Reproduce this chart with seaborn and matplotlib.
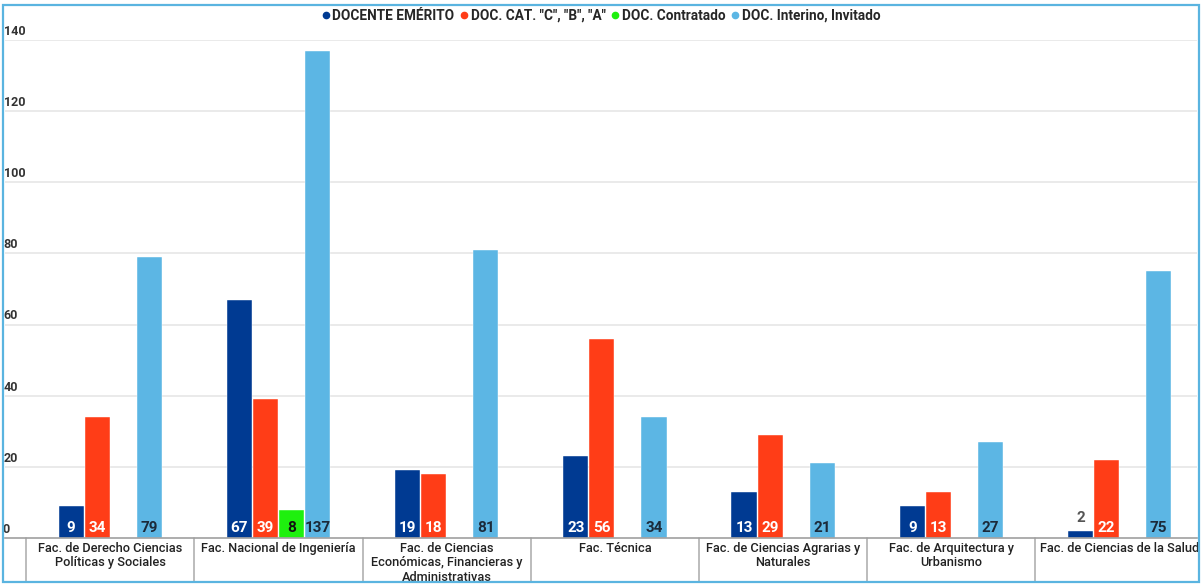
import matplotlib
matplotlib.use('Agg')
import matplotlib.pyplot as plt
import matplotlib.transforms as mtransforms
from matplotlib.lines import Line2D
from matplotlib.patches import Rectangle
import pandas as pd
import seaborn as sns

# data
facultades = ['Fac. de Derecho Ciencias\nPolíticas y Sociales',
              'Fac. Nacional de Ingeniería',
              'Fac. de Ciencias\nEconómicas, Financieras y\nAdministrativas',
              'Fac. Técnica',
              'Fac. de Ciencias Agrarias y\nNaturales',
              'Fac. de Arquitectura y\nUrbanismo',
              'Fac. de Ciencias de la Salud']
tipos = ['DOCENTE EMÉRITO', 'DOC. CAT. "C", "B", "A"', 'DOC. Contratado', 'DOC. Interino, Invitado']
emerito = [9, 67, 19, 23, 13, 9, 2]
catedra = [34, 39, 18, 56, 29, 13, 22]
contratado = [0, 8, 0, 0, 0, 0, 0]
interino = [79, 137, 81, 34, 21, 27, 75]
y_ticks = [0, 20, 40, 60, 80, 100, 120, 140]

colores = ['#003a92', '#ff3d17', '#1ef00e', '#5cb6e4']
col_texto = ['white', 'white', '#111111', '#1b2a3a']

df = pd.DataFrame({
    'facultad': facultades * 4,
    'tipo': [t for t in tipos for _ in facultades],
    'valor': emerito + catedra + contratado + interino,
})

sns.set_style('white')
plt.rcParams['font.family'] = ['Roboto', 'DejaVu Sans']

W, H = 1201, 585
fig = plt.figure(figsize=(W / 100, H / 100), dpi=100)
ax = fig.add_axes([5 / W, (H - 538) / H, 1192 / W, (538 - 40) / H])

sns.barplot(data=df, x='facultad', y='valor', hue='tipo', order=facultades,
            hue_order=tipos, palette=colores, saturation=1, width=0.62, gap=0.04,
            edgecolor='#ffffff', linewidth=0.3, legend=False, ax=ax)

ax.set_ylim(0, 140)
ax.set_xlim(-0.625, 6.46)
ax.set_xlabel('')
ax.set_ylabel('')
ax.set_xticks([])
ax.set_yticks([])
for v in y_ticks[1:]:
    ax.axhline(v, color='#e6e6e6', lw=1.2, zorder=0)
for s in ['left', 'top', 'right']:
    ax.spines[s].set_visible(False)
ax.spines['bottom'].set_color('#a0a0a0')
ax.spines['bottom'].set_linewidth(1.2)

# y labels sit just above the gridlines, inside the plot
trans_y = mtransforms.blended_transform_factory(ax.transAxes, ax.transData)
for v in y_ticks:
    ax.text(-0.001 if v else -0.002, v + 0.6, str(v), transform=trans_y,
            ha='left', va='bottom', fontsize=9, fontweight='bold', color='#333333')

# value labels at the base of each bar
for cont, tc in zip(ax.containers, col_texto):
    for bar in cont:
        h = bar.get_height()
        if h <= 0:
            continue
        cx = bar.get_x() + bar.get_width() / 2
        if h < 6:
            ax.text(cx, h + 1.6, f'{h:.0f}', ha='center', va='bottom',
                    fontsize=11, fontweight='bold', color='#555555')
        else:
            ax.text(cx, 0.9, f'{h:.0f}', ha='center', va='bottom',
                    fontsize=11, fontweight='bold', color=tc)

# category table under the axis
trans_x = mtransforms.blended_transform_factory(ax.transData, ax.transAxes)
fondo = -(582 - 538) / (538 - 40)
for i in range(len(facultades)):
    ax.plot([i - 0.5, i - 0.5], [0, fondo], transform=trans_x, color='#b0b0b0',
            lw=1.2, clip_on=False)
    ax.text(i, -0.008, facultades[i], transform=trans_x, ha='center', va='top',
            fontsize=9.2, fontweight='medium', color='#222222', linespacing=1.13)

# legend
handles = [Line2D([], [], marker='o', ls='', color=c, markersize=4.5) for c in colores]
fig.legend(handles, tipos, loc='center', bbox_to_anchor=(0.5, 1 - 16 / H), ncol=4,
           frameon=False, handletextpad=0.1, columnspacing=0.3, handlelength=0.8,
           prop={'size': 9.8, 'weight': 'bold'})

# outer frame
fig.patches.append(Rectangle((3 / W, 3 / H), 1196 / W, 577 / H, transform=fig.transFigure,
                             fill=False, edgecolor='#5ab4e0', lw=1.6))

fig.savefig('out.png', dpi=100)
